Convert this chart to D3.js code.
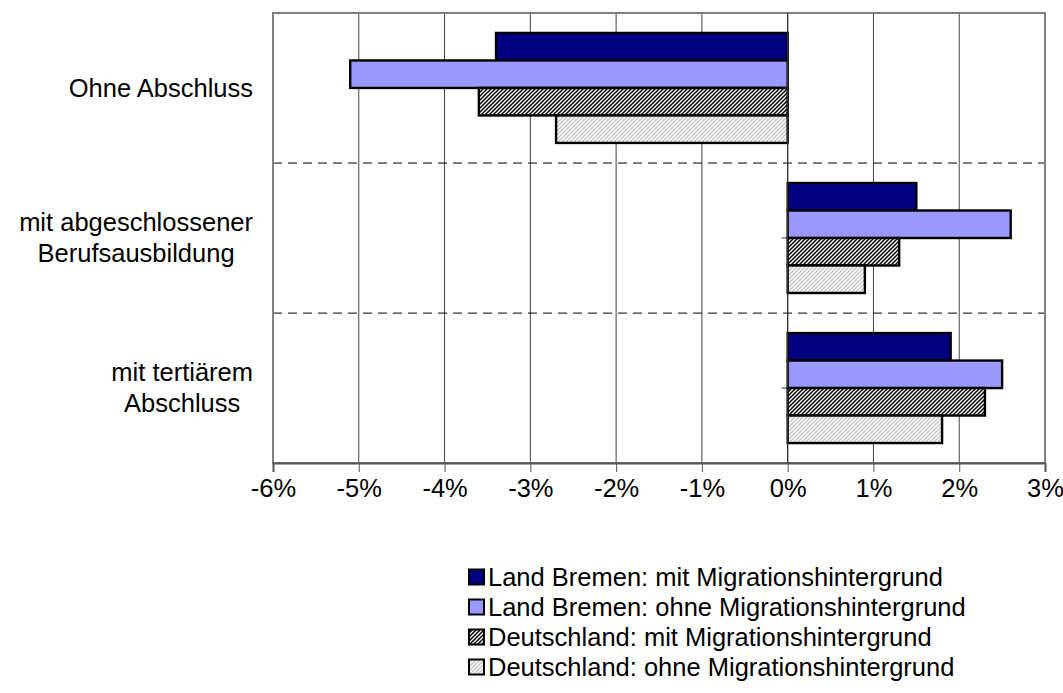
<!DOCTYPE html>
<html>
<head>
<meta charset="utf-8">
<script src="https://cdn.jsdelivr.net/npm/d3@7"></script>
<style>
	body { margin: 0; background: #fff; }
	svg { display: block; font-family: "Liberation Sans", Arial, sans-serif; }
</style>
</head>
<body>
<div id="chart"></div>
<script>
(function () {

	'use strict';

	// data (values in percent)
	const categories = [
		['Ohne Abschluss'],
		['mit abgeschlossener', 'Berufsausbildung'],
		['mit tertiärem', 'Abschluss']
	];
	const seriesNames = [
		'Land Bremen: mit Migrationshintergrund',
		'Land Bremen: ohne Migrationshintergrund',
		'Deutschland: mit Migrationshintergrund',
		'Deutschland: ohne Migrationshintergrund'
	];
	const bremenMit = [-3.4, 1.5, 1.9];
	const bremenOhne = [-5.1, 2.6, 2.5];
	const deutschlandMit = [-3.6, 1.3, 2.3];
	const deutschlandOhne = [-2.7, 0.9, 1.8];
	const xTicks = [-6, -5, -4, -3, -2, -1, 0, 1, 2, 3];

	const seriesValues = [bremenMit, bremenOhne, deutschlandMit, deutschlandOhne];
	const seriesFill = ['#000080', '#9999ff', 'url(#hatchDark)', 'url(#hatchLight)'];

	// layout
	let width = 1063;
	let height = 693;
	let plot = {left: 273, right: 1045, top: 13, bottom: 463};
	let fontSize = 25.5;

	let svg = d3.select('#chart').append('svg')
		.attr('width', width)
		.attr('height', height);

	// hatch patterns for the Deutschland series
	let defs = svg.append('defs');
	function _hatch(id, color) {
		let p = defs.append('pattern')
			.attr('id', id)
			.attr('patternUnits', 'userSpaceOnUse')
			.attr('width', 4)
			.attr('height', 4);
		p.append('rect').attr('width', 4).attr('height', 4).attr('fill', '#fff');
		p.append('path')
			.attr('d', 'M-1,1 l2,-2 M0,4 l4,-4 M3,5 l2,-2')
			.attr('stroke', color)
			.attr('stroke-width', 1.5);
	}
	_hatch('hatchDark', '#000');
	_hatch('hatchLight', '#c8c8c8');

	// scales
	let x = d3.scaleLinear()
		.domain([d3.min(xTicks), d3.max(xTicks)])
		.range([plot.left, plot.right]);

	let y = d3.scaleBand()
		.domain(d3.range(categories.length))
		.range([plot.top, plot.bottom])
		.paddingInner(0.267)
		.paddingOuter(0.133);

	let ySeries = d3.scaleBand()
		.domain(d3.range(seriesNames.length))
		.range([0, y.bandwidth()]);

	let step = y.step();

	// vertical grid lines
	svg.append('g')
		.selectAll('line')
		.data(xTicks.slice(1, -1))
		.join('line')
		.attr('x1', d => x(d)).attr('x2', d => x(d))
		.attr('y1', plot.top).attr('y2', plot.bottom)
		.attr('stroke', '#444')
		.attr('stroke-width', 1);

	// dashed separators between categories
	svg.append('g')
		.selectAll('line')
		.data(d3.range(1, categories.length))
		.join('line')
		.attr('x1', plot.left).attr('x2', plot.right)
		.attr('y1', d => plot.top + d * step)
		.attr('y2', d => plot.top + d * step)
		.attr('stroke', '#000')
		.attr('stroke-width', 1)
		.attr('stroke-dasharray', '9,6');

	// plot border
	svg.append('rect')
		.attr('x', plot.left).attr('y', plot.top)
		.attr('width', plot.right - plot.left)
		.attr('height', plot.bottom - plot.top)
		.attr('fill', 'none')
		.attr('stroke', '#808080')
		.attr('stroke-width', 2);

	// bars
	seriesValues.forEach(function (values, s) {
		svg.append('g')
			.selectAll('rect')
			.data(values)
			.join('rect')
			.attr('x', d => x(Math.min(0, d)))
			.attr('y', (d, i) => y(i) + ySeries(s))
			.attr('width', d => Math.abs(x(d) - x(0)))
			.attr('height', ySeries.bandwidth())
			.attr('fill', seriesFill[s])
			.attr('stroke', '#000')
			.attr('stroke-width', 2.4);
	});

	// category axis at zero with small ticks
	svg.append('line')
		.attr('x1', x(0)).attr('x2', x(0))
		.attr('y1', plot.top).attr('y2', plot.bottom)
		.attr('stroke', '#333')
		.attr('stroke-width', 1.2);
	svg.append('g')
		.selectAll('line')
		.data(d3.range(categories.length))
		.join('line')
		.attr('x1', x(0) - 6).attr('x2', x(0))
		.attr('y1', d => y(d) + y.bandwidth() / 2)
		.attr('y2', d => y(d) + y.bandwidth() / 2)
		.attr('stroke', '#333');

	// x axis
	let xAxis = d3.axisBottom(x)
		.tickValues(xTicks)
		.tickSize(9)
		.tickPadding(7)
		.tickFormat(d => d + '%');

	let gx = svg.append('g')
		.attr('transform', 'translate(0,' + plot.bottom + ')')
		.call(xAxis);
	gx.select('.domain').attr('stroke', '#555').attr('stroke-width', 2);
	gx.selectAll('.tick line').attr('stroke', '#555');
	gx.selectAll('.tick text')
		.attr('fill', '#000')
		.style('font-size', fontSize + 'px')
		.style('font-family', '"Liberation Sans", Arial, sans-serif');

	// category labels: block right aligned, lines centred inside block
	let labelRight = 253;
	let lineHeight = 31;
	categories.forEach(function (lines, i) {
		let g = svg.append('g');
		let cy = y(i) + y.bandwidth() / 2;
		let texts = g.selectAll('text')
			.data(lines)
			.join('text')
			.attr('y', (d, j) => cy + (j - (lines.length - 1) / 2) * lineHeight)
			.attr('dy', '0.35em')
			.attr('text-anchor', 'middle')
			.style('font-size', fontSize + 'px')
			.text(d => d);
		let maxW = d3.max(texts.nodes(), n => n.getComputedTextLength());
		texts.attr('x', labelRight - maxW / 2);
	});

	// legend
	let legend = svg.append('g')
		.attr('transform', 'translate(469,577)');
	let item = legend.selectAll('g')
		.data(seriesNames)
		.join('g')
		.attr('transform', (d, i) => 'translate(0,' + i * 30 + ')');
	item.append('rect')
		.attr('x', 0).attr('y', -7.5)
		.attr('width', 15).attr('height', 15)
		.attr('fill', (d, i) => seriesFill[i])
		.attr('stroke', '#000')
		.attr('stroke-width', 2);
	item.append('text')
		.attr('x', 19)
		.attr('dy', '0.35em')
		.style('font-size', fontSize + 'px')
		.text(d => d);

})();
</script>
</body>
</html>
